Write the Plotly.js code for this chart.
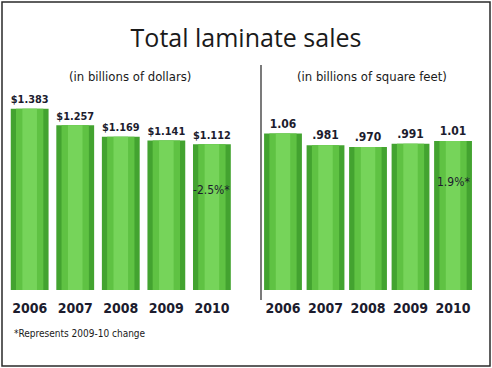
<!DOCTYPE html>
<html><head><meta charset="utf-8">
<script src="https://cdn.plot.ly/plotly-3.0.1.min.js"></script>
<style>body{margin:0;padding:0;background:#fff}#c{width:492px;height:368px}</style>
</head><body><div id="c"></div><pre id="err" style="position:absolute;top:100px;left:20px;color:red;font-size:10px"></pre>
<script>
window.onerror = function(m){document.getElementById('err').textContent += m + '\n';};
const years = ['2006','2007','2008','2009','2010'];
const dollars = [1.383, 1.257, 1.169, 1.141, 1.112];
const dollarLabels = ['$1.383','$1.257','$1.169','$1.141','$1.112'];
const sqft = [1.06, 0.981, 0.970, 0.991, 1.01];
const sqftLabels = ['1.06','.981','.970','.991','1.01'];
const changeDollars = '-2.5%*';
const changeSqft = '1.9%*';

const narrow = 'DejaVu Sans Condensed, Liberation Sans Narrow, Roboto, sans-serif';
const dark = '#1c1c2e';
const bold = s => '<b>' + s + '</b>';

function bars(x, y, xa, ya, w, color, text) {
  const t = {type:'bar', x:x, y:y, xaxis:xa, yaxis:ya, width:w,
    marker:{color:color, line:{width:0}},
    cliponaxis:false, hoverinfo:'skip', showlegend:false};
  if (text) {
    t.text = text.map(bold); t.textposition = 'outside';
    t.textfont = {family:narrow, size:12, color:dark};
  } else { t.textposition = 'none'; }
  return t;
}

const data = [
  bars(years, dollars, 'x', 'y', 0.83, '#43a330', dollarLabels),
  bars(years, dollars, 'x', 'y', 0.6, '#5fc243', null),
  bars(years, dollars, 'x', 'y', 0.32, '#76d45a', null),
  bars(years, sqft, 'x2', 'y2', 0.89, '#43a330', sqftLabels),
  bars(years, sqft, 'x2', 'y2', 0.64, '#5fc243', null),
  bars(years, sqft, 'x2', 'y2', 0.34, '#76d45a', null)
];

function xax(dom, anchor){ return {domain:dom, anchor:anchor, type:'category', range:[-0.5,4.5],
  showgrid:false, zeroline:false, showline:false, ticks:'', ticklabelstandoff:8,
  tickvals:years, ticktext:years.map(bold),
  tickfont:{family:narrow, size:14, color:dark}}; }
function yax(rng, anchor){ return {domain:[0.212,0.837], range:rng, anchor:anchor,
  showgrid:false, zeroline:false, showline:false, showticklabels:false, ticks:''}; }

const layout = {
  width:492, height:368, margin:{l:0,r:0,t:0,b:0},
  paper_bgcolor:'#fff', plot_bgcolor:'rgba(0,0,0,0)',
  barmode:'overlay',
  title:{text:'Total laminate sales', x:0.5, xanchor:'center', y:0.895, yanchor:'middle',
    font:{family:'Open Sans, Noto Sans, sans-serif', size:25, color:'#1a1a1a'}},
  xaxis:xax([0.014,0.477],'y'),
  yaxis:yax([0,1.756],'x'),
  xaxis2:xax([0.532,0.964],'y2'),
  yaxis2:yax([0,1.559],'x2'),
  shapes:[
    {type:'rect', xref:'paper', yref:'paper', x0:2/492, x1:490/492, y0:2/368, y1:366/368,
     line:{color:'#2a2a2a', width:1.5}},
    {type:'line', xref:'paper', yref:'paper', x0:261/492, x1:261/492, y0:(368-300)/368, y1:(368-65)/368,
     line:{color:'#222', width:1.2}}
  ],
  annotations:[
    {text:'(in billions of dollars)', xref:'paper', yref:'paper', x:130/492, xanchor:'center', y:(368-67)/368,
     showarrow:false, font:{family:narrow, size:13, color:'#1a1a1a'}},
    {text:'(in billions of square feet)', xref:'paper', yref:'paper', x:372/492, xanchor:'center', y:(368-67)/368,
     showarrow:false, font:{family:narrow, size:13, color:'#1a1a1a'}},
    {text:changeDollars, xref:'x', yref:'y', x:4, y:0.76, showarrow:false,
     font:{family:narrow, size:12, color:dark}},
    {text:changeSqft, xref:'x2', yref:'y2', x:4, y:0.73, showarrow:false,
     font:{family:narrow, size:12, color:dark}},
    {text:'*Represents 2009-10 change', xref:'paper', yref:'paper', x:12/492, xanchor:'left',
     y:(368-341)/368, showarrow:false, font:{family:narrow, size:10, color:'#1a1a1a'}}
  ]
};
Plotly.newPlot('c', data, layout, {staticPlot:true}).catch(function(e){document.getElementById('err').textContent += String(e);});
</script></body></html>
